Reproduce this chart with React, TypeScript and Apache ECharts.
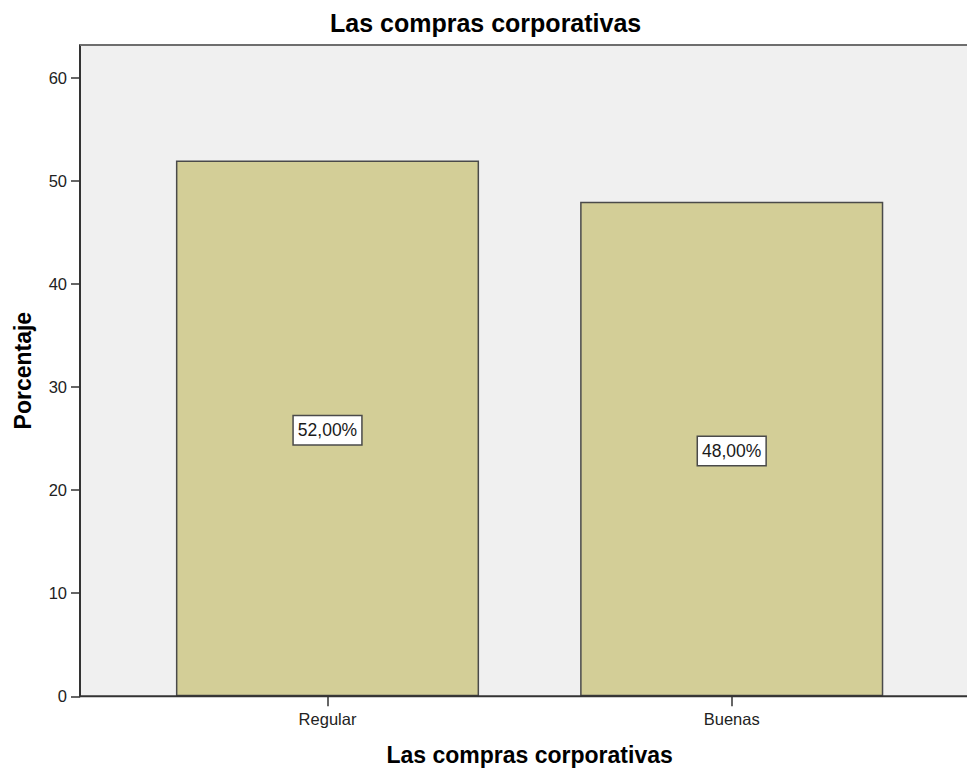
import React, { useEffect, useRef } from "react";
import * as echarts from "echarts";

const categories = ["Regular", "Buenas"];
const percentages = [52.0, 48.0];
const yTicks = [0, 10, 20, 30, 40, 50, 60];
const yMax = 63.2;
const chartTitle = "Las compras corporativas";
const xAxisTitle = "Las compras corporativas";
const yAxisTitle = "Porcentaje";

const W = 967;
const H = 769;
const PLOT_LEFT = 80;
const PLOT_TOP = 45;
const PLOT_BOTTOM = 696.3;
const GRID_LEFT = 125.4;
const GRID_RIGHT = 933.8;
const FONT = "'Liberation Sans', Arial, Helvetica, sans-serif";

export default function App() {
  const ref = useRef<HTMLDivElement>(null);
  useEffect(() => {
    const chart = echarts.init(ref.current!, null, { renderer: "svg" });
    chart.setOption({
      animation: false,
      backgroundColor: "#ffffff",
      title: {
        text: chartTitle,
        left: 330,
        top: 10,
        padding: 0,
        textStyle: { fontFamily: FONT, fontSize: 25, fontWeight: "bold", color: "#000" },
      },
      grid: {
        left: GRID_LEFT,
        right: W - GRID_RIGHT,
        top: PLOT_TOP,
        bottom: H - PLOT_BOTTOM,
        containLabel: false,
        outerBoundsMode: "none",
      },
      graphic: [
        {
          type: "rect",
          z: -10,
          shape: { x: PLOT_LEFT, y: PLOT_TOP, width: W - PLOT_LEFT, height: PLOT_BOTTOM - PLOT_TOP },
          style: { fill: "#f0f0f0" },
        },
        {
          type: "line",
          z: 5,
          shape: { x1: PLOT_LEFT, y1: PLOT_TOP, x2: W, y2: PLOT_TOP },
          style: { stroke: "#6e6e6e", lineWidth: 2 },
        },
        {
          type: "line",
          z: 5,
          shape: { x1: PLOT_LEFT, y1: PLOT_BOTTOM, x2: W, y2: PLOT_BOTTOM },
          style: { stroke: "#333333", lineWidth: 2 },
        },
      ],
      xAxis: {
        type: "category",
        data: categories,
        boundaryGap: true,
        axisLine: { show: false },
        axisTick: { show: true, alignWithLabel: true, length: 10, lineStyle: { color: "#333", width: 1.5 } },
        axisLabel: { margin: 14, fontFamily: FONT, fontSize: 16.5, color: "#222" },
        splitLine: { show: false },
        name: xAxisTitle,
        nameLocation: "middle",
        nameGap: 47,
        nameMoveOverlap: false,
        nameTextStyle: { fontFamily: FONT, fontSize: 23, fontWeight: "bold", color: "#000" },
      },
      yAxis: {
        type: "value",
        min: 0,
        max: yMax,
        interval: 10,
        offset: GRID_LEFT - PLOT_LEFT,
        axisLine: { show: true, lineStyle: { color: "#333", width: 2 } },
        axisTick: { show: true, length: 9, customValues: yTicks, lineStyle: { color: "#333", width: 1.5 } },
        axisLabel: {
          customValues: yTicks,
          margin: 13,
          fontFamily: FONT,
          fontSize: 16.5,
          color: "#222",
          padding: [5, 0, 0, 0],
        },
        splitLine: { show: false },
        name: yAxisTitle,
        nameLocation: "middle",
        nameGap: 46,
        nameMoveOverlap: false,
        nameTextStyle: { fontFamily: FONT, fontSize: 23, fontWeight: "bold", color: "#000" },
      },
      series: [
        {
          type: "bar",
          data: percentages,
          barWidth: "75%",
          itemStyle: { color: "#d3ce97", borderColor: "#4a4a4a", borderWidth: 1.5 },
          label: {
            show: true,
            position: "inside",
            offset: [0, 2],
            formatter: (p: any) => Number(p.value).toFixed(2).replace(".", ",") + "%",
            fontFamily: FONT,
            fontSize: 17.5,
            color: "#1a1a1a",
            backgroundColor: "#ffffff",
            borderColor: "#4a4a4a",
            borderWidth: 1.5,
            lineHeight: 20,
            padding: [4, 4, 4, 4],
          },
        },
      ],
    });
    return () => chart.dispose();
  }, []);
  return <div ref={ref} style={{ position: "fixed", left: 0, top: 0, width: W, height: H }} />;
}
